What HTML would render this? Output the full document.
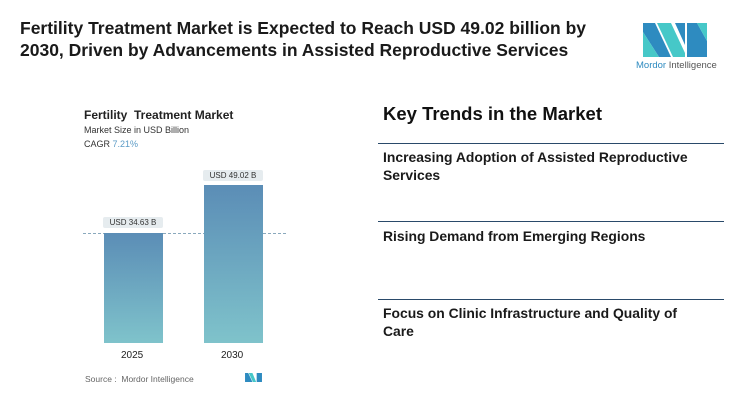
<!DOCTYPE html>
<html><head><style>
body{margin:0;width:750px;height:404px;background:#fff;font-family:"Liberation Sans",sans-serif;position:relative;overflow:hidden;color:#111}
.a{position:absolute;white-space:nowrap}
.t{left:20px;top:17px;font-size:17.5px;font-weight:bold;line-height:22px;color:#1a1a1a}
.h{left:383px;top:103px;font-size:18.5px;font-weight:bold}
.ln{position:absolute;left:378px;width:346px;height:1px;background:#2a4a6a}
.it{left:383px;font-size:13.9px;font-weight:bold;line-height:18px;color:#1a1a1a}
.bar{position:absolute;width:59px;background:linear-gradient(#5b8db6,#7fc3cb)}
.lab{position:absolute;background:#e6ecef;font-size:8px;text-align:center;height:11px;line-height:11px;border-radius:2px;color:#333}
</style></head><body>
<div class="a t">Fertility Treatment Market is Expected to Reach USD 49.02 billion by<br>2030, Driven by Advancements in Assisted Reproductive Services</div>
<svg class="a" style="left:643px;top:23px" width="64" height="34" viewBox="0 0 64 34">
<polygon points="0,0 12,0 28,34 16,34 0,9" fill="#2e8bc0"/>
<polygon points="0,9 16,34 0,34" fill="#46c8c8"/>
<polygon points="14,0 28,0 42,30 42,34 30,34" fill="#46c8c8"/>
<polygon points="32,0 42,0 42,22" fill="#2e8bc0"/>
<polygon points="44,0 54,0 64,18 64,34 44,34" fill="#2e8bc0"/>
<polygon points="54,0 64,0 64,18" fill="#46c8c8"/>
</svg>
<div class="a" style="left:636px;top:60px;font-size:9.5px;color:#2e8bc0">Mordor <span style="color:#555">Intelligence</span></div>

<div class="a" style="left:84px;top:108px;font-size:12px;font-weight:bold;color:#222">Fertility&nbsp; Treatment Market</div>
<div class="a" style="left:84px;top:125px;font-size:9px;color:#333">Market Size in USD Billion</div>
<div class="a" style="left:84px;top:139px;font-size:9px;color:#333">CAGR <span style="color:#5b9bc6">7.21%</span></div>
<div class="a" style="left:83px;top:233px;width:203px;border-top:1px dashed #8aa9bd"></div>
<div class="bar" style="left:104px;top:233px;height:110px"></div>
<div class="bar" style="left:204px;top:185px;height:158px"></div>
<div class="lab" style="left:103px;top:217px;width:60px">USD 34.63 B</div>
<div class="lab" style="left:203px;top:170px;width:60px">USD 49.02 B</div>
<div class="a" style="left:121px;top:350px;font-size:10px;color:#222">2025</div>
<div class="a" style="left:221px;top:350px;font-size:10px;color:#222">2030</div>
<div class="a" style="left:85px;top:374px;font-size:8.5px;color:#666">Source :&nbsp; Mordor Intelligence</div>
<svg class="a" style="left:245px;top:373px" width="17" height="9" viewBox="0 0 64 34"><polygon points="0,0 12,0 28,34 0,34" fill="#2e8bc0"/><polygon points="14,0 28,0 42,34 30,34" fill="#46c8c8"/><polygon points="44,0 64,0 64,34 44,34" fill="#2e8bc0"/></svg>

<div class="a h">Key Trends in the Market</div>
<div class="ln" style="top:143px"></div>
<div class="a it" style="top:148px">Increasing Adoption of Assisted Reproductive<br>Services</div>
<div class="ln" style="top:221px"></div>
<div class="a it" style="top:227px">Rising Demand from Emerging Regions</div>
<div class="ln" style="top:299px"></div>
<div class="a it" style="top:304px">Focus on Clinic Infrastructure and Quality of<br>Care</div>
</body></html>
